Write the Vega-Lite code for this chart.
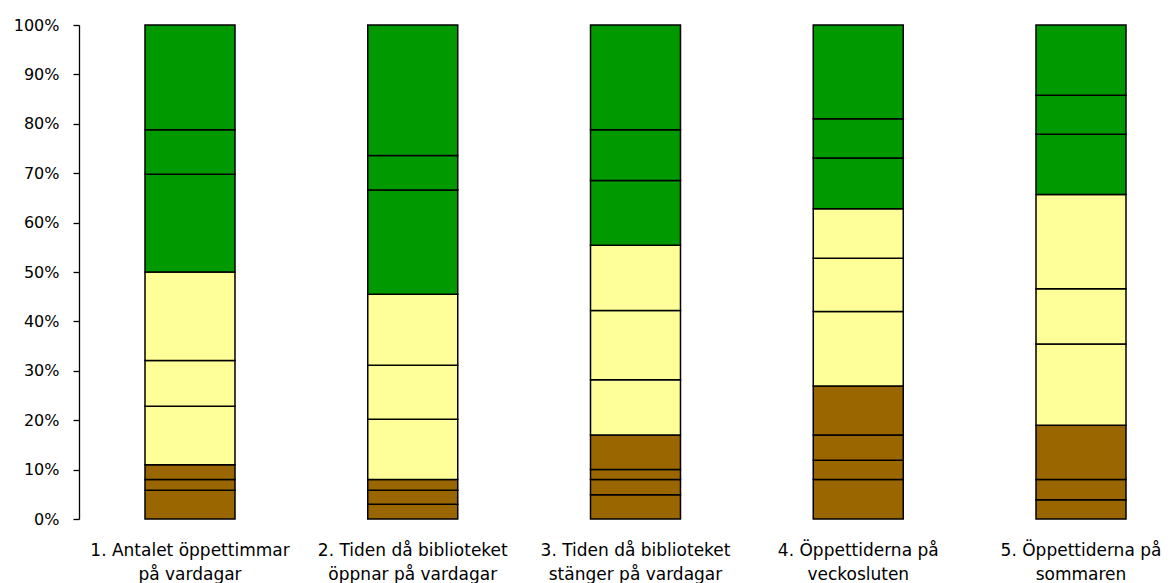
{
  "$schema": "https://vega.github.io/schema/vega-lite/v6.json",
  "autosize": "none",
  "padding": {"left": 79, "top": 25, "right": 0, "bottom": 64},
  "width": 1113,
  "height": 494,
  "background": "white",
  "config": {"view": {"stroke": null}},
  "data": {
    "values": [
      {"q": "1. Antalet öppettimmar|på vardagar", "k": 1, "g": "brun", "v": 5.8},
      {"q": "1. Antalet öppettimmar|på vardagar", "k": 2, "g": "brun", "v": 2.2},
      {"q": "1. Antalet öppettimmar|på vardagar", "k": 3, "g": "brun", "v": 3.0},
      {"q": "1. Antalet öppettimmar|på vardagar", "k": 5, "g": "gul", "v": 11.8},
      {"q": "1. Antalet öppettimmar|på vardagar", "k": 6, "g": "gul", "v": 9.3},
      {"q": "1. Antalet öppettimmar|på vardagar", "k": 7, "g": "gul", "v": 17.9},
      {"q": "1. Antalet öppettimmar|på vardagar", "k": 8, "g": "grön", "v": 19.8},
      {"q": "1. Antalet öppettimmar|på vardagar", "k": 9, "g": "grön", "v": 9.0},
      {"q": "1. Antalet öppettimmar|på vardagar", "k": 10, "g": "grön", "v": 21.2},

      {"q": "2. Tiden då biblioteket|öppnar på vardagar", "k": 1, "g": "brun", "v": 3.0},
      {"q": "2. Tiden då biblioteket|öppnar på vardagar", "k": 2, "g": "brun", "v": 2.8},
      {"q": "2. Tiden då biblioteket|öppnar på vardagar", "k": 3, "g": "brun", "v": 2.2},
      {"q": "2. Tiden då biblioteket|öppnar på vardagar", "k": 5, "g": "gul", "v": 12.2},
      {"q": "2. Tiden då biblioteket|öppnar på vardagar", "k": 6, "g": "gul", "v": 10.9},
      {"q": "2. Tiden då biblioteket|öppnar på vardagar", "k": 7, "g": "gul", "v": 14.4},
      {"q": "2. Tiden då biblioteket|öppnar på vardagar", "k": 8, "g": "grön", "v": 21.1},
      {"q": "2. Tiden då biblioteket|öppnar på vardagar", "k": 9, "g": "grön", "v": 7.0},
      {"q": "2. Tiden då biblioteket|öppnar på vardagar", "k": 10, "g": "grön", "v": 26.4},

      {"q": "3. Tiden då biblioteket|stänger på vardagar", "k": 1, "g": "brun", "v": 4.9},
      {"q": "3. Tiden då biblioteket|stänger på vardagar", "k": 2, "g": "brun", "v": 3.1},
      {"q": "3. Tiden då biblioteket|stänger på vardagar", "k": 3, "g": "brun", "v": 2.0},
      {"q": "3. Tiden då biblioteket|stänger på vardagar", "k": 4, "g": "brun", "v": 7.0},
      {"q": "3. Tiden då biblioteket|stänger på vardagar", "k": 5, "g": "gul", "v": 11.2},
      {"q": "3. Tiden då biblioteket|stänger på vardagar", "k": 6, "g": "gul", "v": 14.0},
      {"q": "3. Tiden då biblioteket|stänger på vardagar", "k": 7, "g": "gul", "v": 13.2},
      {"q": "3. Tiden då biblioteket|stänger på vardagar", "k": 8, "g": "grön", "v": 13.1},
      {"q": "3. Tiden då biblioteket|stänger på vardagar", "k": 9, "g": "grön", "v": 10.3},
      {"q": "3. Tiden då biblioteket|stänger på vardagar", "k": 10, "g": "grön", "v": 21.2},

      {"q": "4. Öppettiderna på|veckosluten", "k": 1, "g": "brun", "v": 8.0},
      {"q": "4. Öppettiderna på|veckosluten", "k": 2, "g": "brun", "v": 3.9},
      {"q": "4. Öppettiderna på|veckosluten", "k": 3, "g": "brun", "v": 5.1},
      {"q": "4. Öppettiderna på|veckosluten", "k": 4, "g": "brun", "v": 9.9},
      {"q": "4. Öppettiderna på|veckosluten", "k": 5, "g": "gul", "v": 15.1},
      {"q": "4. Öppettiderna på|veckosluten", "k": 6, "g": "gul", "v": 10.8},
      {"q": "4. Öppettiderna på|veckosluten", "k": 7, "g": "gul", "v": 10.0},
      {"q": "4. Öppettiderna på|veckosluten", "k": 8, "g": "grön", "v": 10.3},
      {"q": "4. Öppettiderna på|veckosluten", "k": 9, "g": "grön", "v": 7.9},
      {"q": "4. Öppettiderna på|veckosluten", "k": 10, "g": "grön", "v": 19.0},

      {"q": "5. Öppettiderna på|sommaren", "k": 1, "g": "brun", "v": 3.9},
      {"q": "5. Öppettiderna på|sommaren", "k": 2, "g": "brun", "v": 4.1},
      {"q": "5. Öppettiderna på|sommaren", "k": 3, "g": "brun", "v": 11.0},
      {"q": "5. Öppettiderna på|sommaren", "k": 5, "g": "gul", "v": 16.4},
      {"q": "5. Öppettiderna på|sommaren", "k": 6, "g": "gul", "v": 11.2},
      {"q": "5. Öppettiderna på|sommaren", "k": 7, "g": "gul", "v": 19.1},
      {"q": "5. Öppettiderna på|sommaren", "k": 8, "g": "grön", "v": 12.2},
      {"q": "5. Öppettiderna på|sommaren", "k": 9, "g": "grön", "v": 7.9},
      {"q": "5. Öppettiderna på|sommaren", "k": 10, "g": "grön", "v": 14.2}
    ]
  },
  "mark": {"type": "bar", "stroke": "black", "strokeWidth": 1.5},
  "encoding": {
    "x": {
      "field": "q",
      "type": "nominal",
      "sort": null,
      "title": null,
      "scale": {"paddingInner": 0.596, "paddingOuter": 0.2963},
      "axis": {
        "domain": false,
        "ticks": false,
        "tickSize": 0,
        "labelAngle": 0,
        "labelExpr": "split(datum.label, '|')",
        "labelFont": "DejaVu Sans",
        "labelFontSize": 17,
        "labelColor": "black",
        "labelLineHeight": 24,
        "labelPadding": 23,
        "labelBaseline": "top",
        "labelLimit": 0,
        "labelOverlap": false
      }
    },
    "y": {
      "field": "v",
      "type": "quantitative",
      "stack": "zero",
      "title": null,
      "scale": {"domain": [0, 100], "nice": false},
      "axis": {
        "values": [0, 10, 20, 30, 40, 50, 60, 70, 80, 90, 100],
        "labelExpr": "datum.value + '%'",
        "grid": false,
        "domainColor": "black",
        "domainWidth": 1.3,
        "tickColor": "black",
        "tickWidth": 1.3,
        "tickSize": 6,
        "labelPadding": 14,
        "labelFont": "DejaVu Sans",
        "labelFontSize": 16,
        "labelColor": "black"
      }
    },
    "color": {
      "field": "g",
      "type": "nominal",
      "scale": {"domain": ["brun", "gul", "grön"], "range": ["#996600", "#FFFF99", "#009900"]},
      "legend": null
    },
    "order": {"field": "k", "type": "quantitative", "sort": "ascending"}
  }
}
